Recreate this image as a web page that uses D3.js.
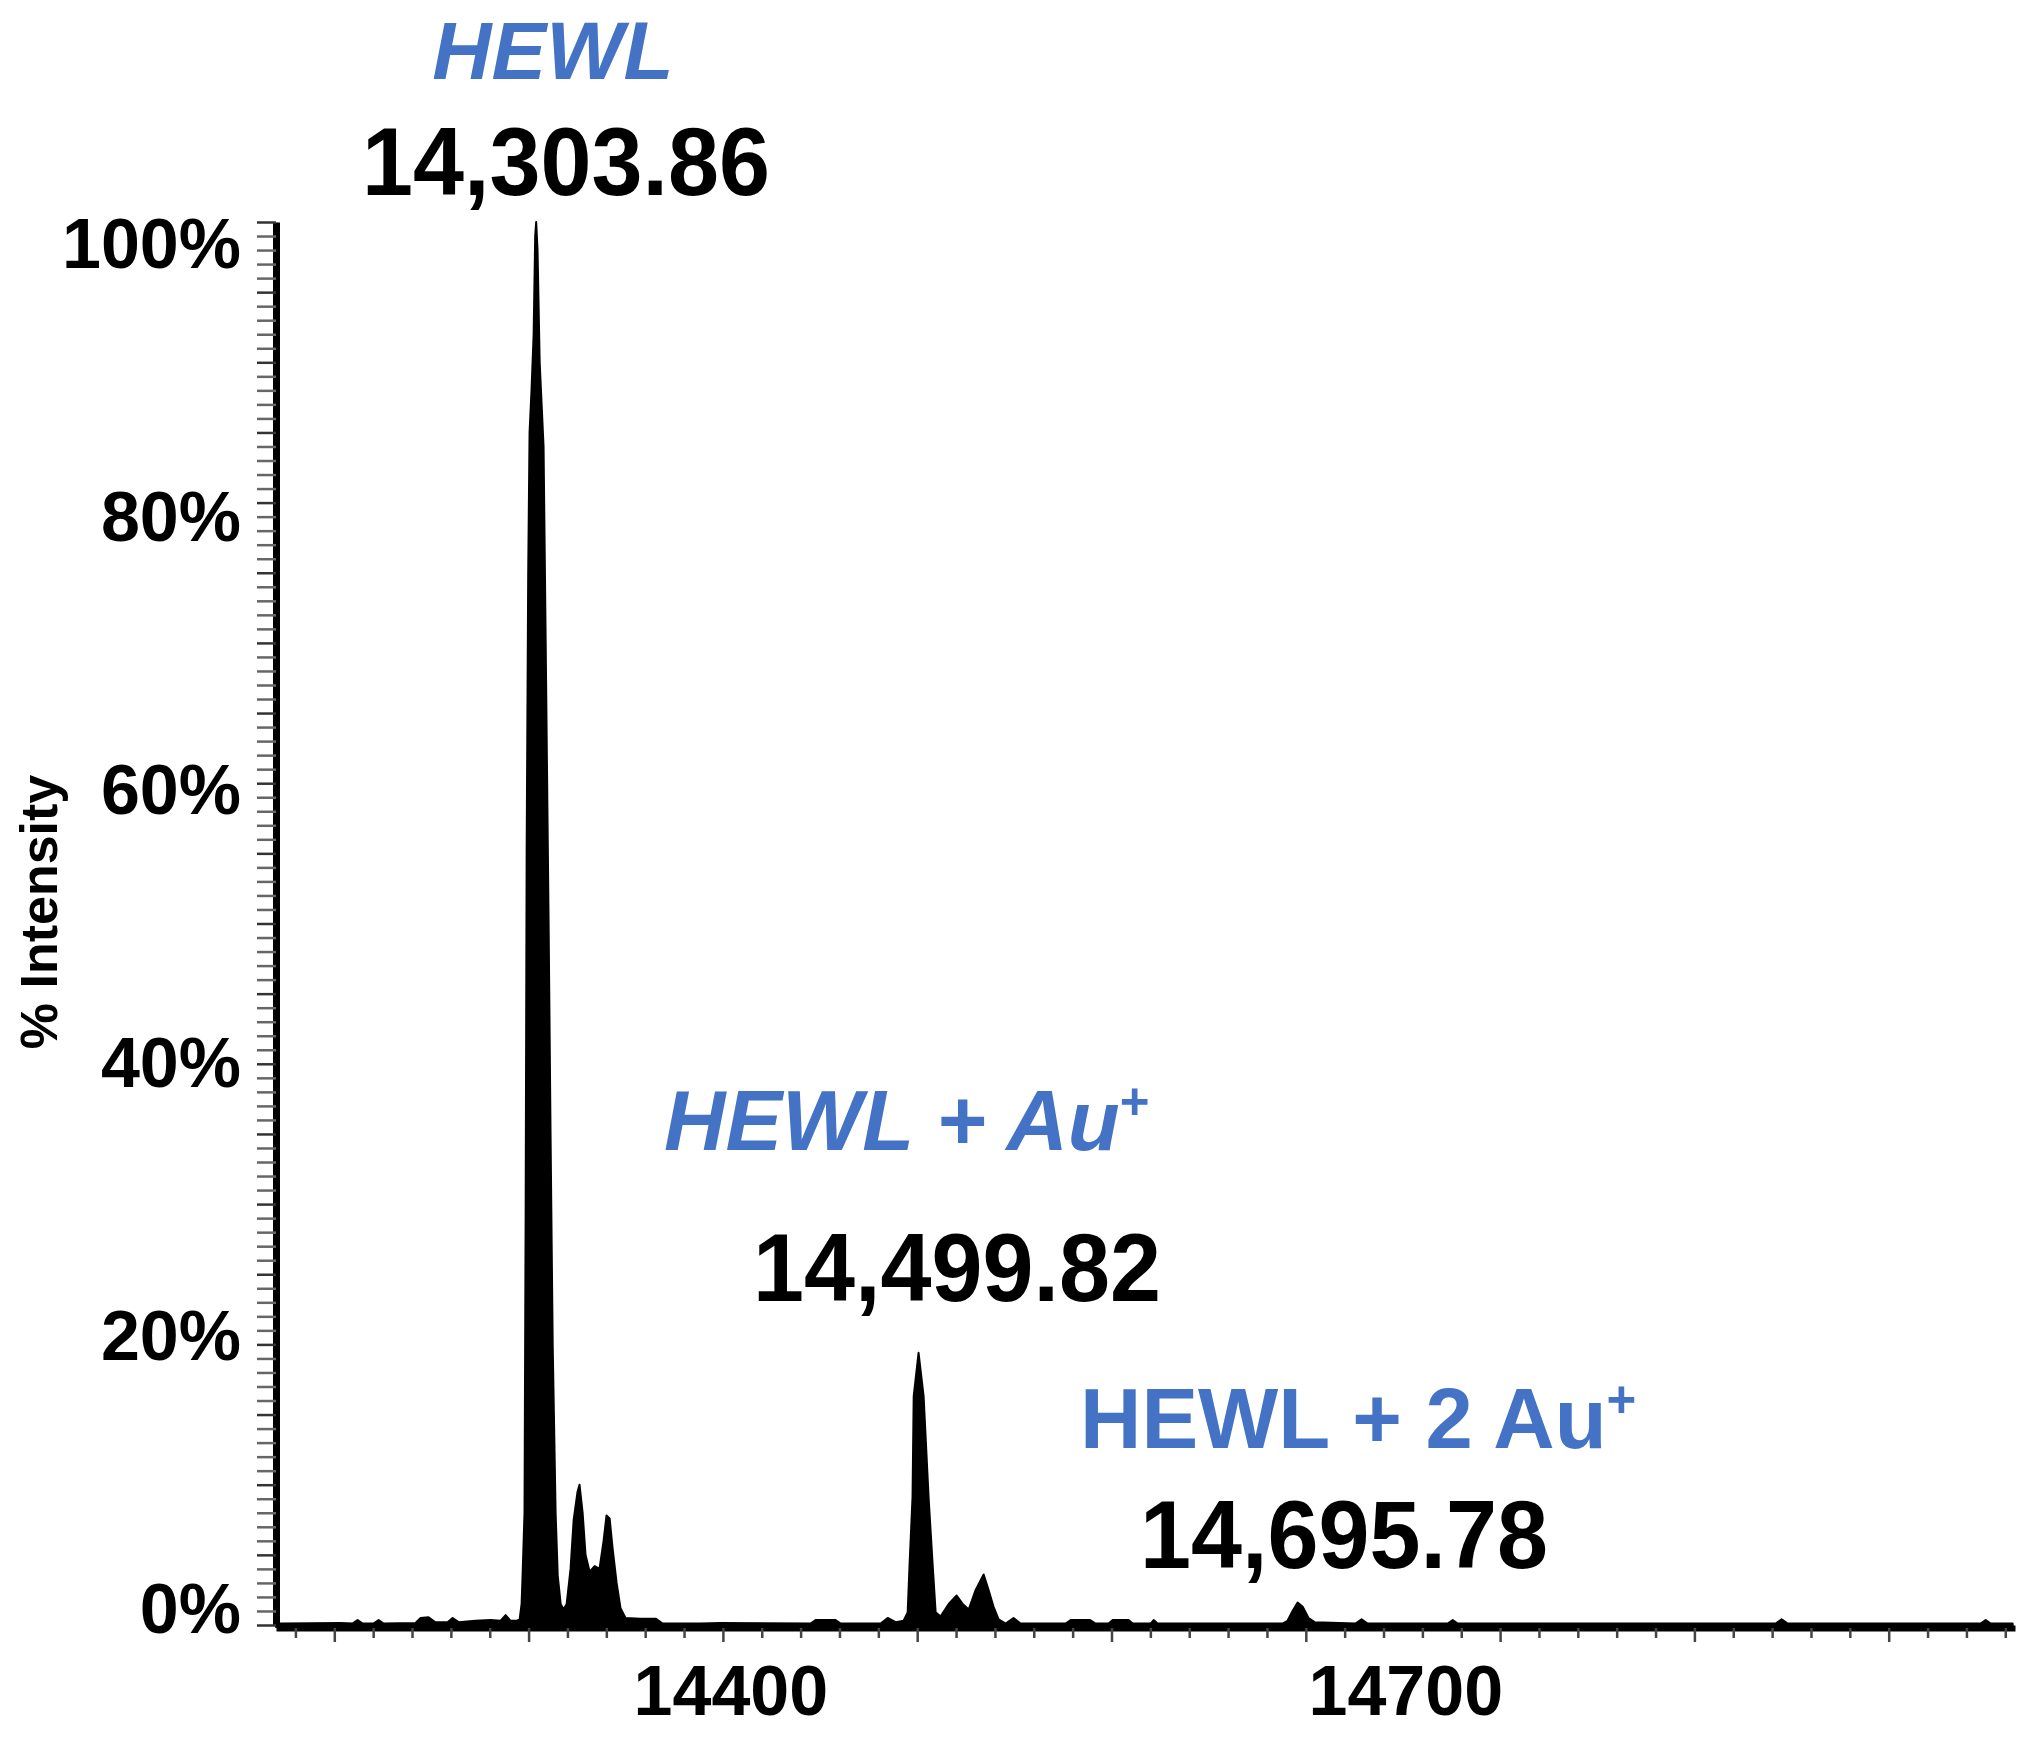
<!DOCTYPE html>
<html>
<head>
<meta charset="utf-8">
<script src="https://cdn.jsdelivr.net/npm/d3@7"></script>
<style>
  html, body { margin: 0; padding: 0; background: #fff; }
  svg { display: block; }
</style>
</head>
<body>
<svg id="chart" width="2040" height="1737"></svg>
<script>
// ---------------- DATA ----------------
// Spectrum outline: mass (Da) and % intensity
const spectrumMass = [
  14170.0, 14172.4, 14203.2, 14209.4, 14212.0, 14214.6, 14220.2, 14222.8, 14225.4,
  14241.8, 14244.4, 14248.5, 14252.1, 14258.3, 14260.9, 14264.0, 14272.7, 14280.4,
  14285.6, 14288.2, 14290.7, 14293.8,
  14295.4, 14296.4, 14296.9, 14297.9, 14298.5, 14299.0, 14299.8, 14300.5, 14301.5,
  14302.6, 14303.4, 14303.9, 14304.6, 14305.7, 14306.7, 14307.7, 14308.8, 14310.3,
  14311.3, 14312.4, 14313.9, 14315.0, 14316.5, 14318.0,
  14319.6, 14321.6, 14323.2, 14325.2, 14326.2, 14327.8, 14329.3, 14331.4, 14334.0,
  14336.5, 14338.6, 14340.1, 14341.7, 14343.2, 14345.3, 14347.3, 14349.9, 14357.6,
  14365.4, 14369.0, 14388.5, 14398.8,
  14445.1, 14447.7, 14458.0, 14460.6, 14481.2, 14484.8, 14488.9, 14493.0,
  14495.1, 14496.1, 14497.6, 14498.2, 14500.7, 14503.3, 14505.9, 14507.9, 14509.5,
  14512.0, 14516.2, 14520.3, 14523.4, 14526.5, 14530.1, 14534.2, 14536.7, 14539.3,
  14541.9, 14545.5, 14549.6, 14553.2,
  14576.4, 14579.0, 14589.0, 14591.8, 14598.5, 14600.6, 14608.8, 14610.9,
  14620.1, 14621.7, 14623.7,
  14688.0, 14690.6, 14693.2, 14695.8, 14698.4, 14701.4, 14704.5,
  14725.6, 14728.7, 14731.8, 14773.0, 14775.6, 14778.2,
  14941.8, 14944.9, 14948.0, 15047.3, 15049.9, 15052.5, 15063.8
];
const spectrumIntensity = [
  0.1, 0.1, 0.15, 0.1, 0.35, 0.1, 0.1, 0.35, 0.1,
  0.15, 0.5, 0.55, 0.2, 0.2, 0.5, 0.2, 0.3, 0.35,
  0.3, 0.7, 0.3, 0.3,
  0.4, 1.5, 3.5, 8, 30, 55, 75, 85, 88,
  92, 99, 100, 98, 90, 87, 84, 70, 50,
  35, 20, 8, 3.5, 1.5, 1.1,
  1.5, 4, 7.5, 9.5, 10, 8, 5, 3.8, 4.2,
  4, 6, 7.8, 7.6, 5.5, 3, 1.2, 0.5, 0.45,
  0.45, 0.1, 0.1, 0.15,
  0.1, 0.35, 0.35, 0.1, 0.1, 0.5, 0.2, 0.3,
  0.9, 4.4, 9.1, 16.3, 19.4, 16.3, 9, 4.4, 0.9,
  0.6, 1.5, 2.1, 1.5, 1.1, 2.5, 3.6, 2.5, 1.3,
  0.4, 0.1, 0.5, 0.1,
  0.1, 0.35, 0.35, 0.1, 0.1, 0.35, 0.35, 0.1,
  0.1, 0.35, 0.1,
  0.1, 0.3, 1.0, 1.6, 1.3, 0.5, 0.2,
  0.1, 0.4, 0.1, 0.1, 0.35, 0.1,
  0.1, 0.4, 0.1, 0.1, 0.35, 0.1, 0.1
];

const yTickValues = [0, 20, 40, 60, 80, 100];
const yMinorTicks = d3.range(0, 101, 1);
const xMinorTicks = d3.range(14180, 15061, 20);
const xTickLabels = [14400, 14700];

const peakNames = ["HEWL", "HEWL + Au", "HEWL + 2 Au"];
const peakNameSup = ["", "+", "+"];
const peakMassLabels = ["14,303.86", "14,499.82", "14,695.78"];
const yAxisTitle = "% Intensity";

// ---------------- LAYOUT ----------------
const FONT = "'Liberation Sans', Arial, Helvetica, sans-serif";
const BLUE = "#4472C4";

const svg = d3.select("#chart");

const x = d3.scaleLinear().domain([14170, 15065]).range([276, 2015]);
const y = d3.scaleLinear().domain([0, 100]).range([1625, 222]);
// tick labels were placed slightly inside the tick span in the original
const yLabelScale = d3.scaleLinear().domain([0, 100]).range([1607, 242]);

const data = spectrumMass.map((m, i) => ({ m, v: spectrumIntensity[i] }));

// spectrum (filled)
const area = d3.area()
  .x(d => x(d.m))
  .y0(y(0) + 2)
  .y1(d => y(d.v))
  .curve(d3.curveLinear);

svg.append("path")
  .datum(data)
  .attr("d", area)
  .attr("fill", "#000")
  .attr("stroke", "#000")
  .attr("stroke-width", 2)
  .attr("stroke-linejoin", "round");

// Y axis: minor ticks + thick line
const yAxisG = svg.append("g")
  .attr("transform", "translate(276,0)")
  .call(d3.axisLeft(y).tickValues(yMinorTicks).tickSize(19).tickSizeOuter(0).tickFormat(""));
yAxisG.select(".domain").attr("stroke", "#000").attr("stroke-width", 7);
yAxisG.selectAll(".tick line")
  .attr("stroke", d => d % 5 === 0 ? "#333" : "#666")
  .attr("stroke-width", 2.5);

// Y tick labels
const yLabG = svg.append("g")
  .attr("transform", "translate(241,0)")
  .call(d3.axisLeft(yLabelScale).tickValues(yTickValues).tickSize(0).tickPadding(0)
        .tickFormat(d => d + "%"));
yLabG.select(".domain").remove();
yLabG.selectAll(".tick text")
  .attr("font-family", FONT)
  .attr("font-weight", "bold")
  .attr("font-size", 70)
  .attr("fill", "#000")
  .attr("dy", "0.36em")
  .attr("text-anchor", "end");

// X axis
const xAxisG = svg.append("g")
  .attr("transform", "translate(0,1628)")
  .call(d3.axisBottom(x).tickValues(xMinorTicks).tickSizeOuter(0).tickFormat(""));
xAxisG.select(".domain").attr("stroke", "#000").attr("stroke-width", 6);
xAxisG.selectAll(".tick line")
  .attr("y2", d => d % 100 === 0 ? 14 : 10)
  .attr("stroke", "#444")
  .attr("stroke-width", 2.5);

// X tick labels (the 14700 label sits right of its tick in the original)
const xLabelShift = { 14400: 8, 14700: 100 };
svg.append("g").selectAll("text")
  .data(xTickLabels)
  .join("text")
  .attr("x", d => x(d) + xLabelShift[d])
  .attr("y", 1715)
  .attr("text-anchor", "middle")
  .attr("font-family", FONT)
  .attr("font-weight", "bold")
  .attr("font-size", 70)
  .attr("fill", "#000")
  .text(d => d);

// Y axis title
svg.append("text")
  .attr("transform", "translate(57,912) rotate(-90)")
  .attr("text-anchor", "middle")
  .attr("font-family", FONT)
  .attr("font-weight", "bold")
  .attr("font-size", 52)
  .attr("fill", "#000")
  .text(yAxisTitle);

// Peak annotations
const nameLayout = [
  { x: 553, y: 79, anchor: "middle", size: 82, italic: true },
  { x: 664, y: 1150, anchor: "start", size: 85, italic: true },
  { x: 1080, y: 1448, anchor: "start", size: 85, italic: false }
];
const massLayout = [
  { x: 566, y: 195 },
  { x: 957, y: 1301 },
  { x: 1344, y: 1568 }
];

peakNames.forEach((name, i) => {
  const L = nameLayout[i];
  const t = svg.append("text")
    .attr("x", L.x).attr("y", L.y)
    .attr("text-anchor", L.anchor)
    .attr("font-family", FONT)
    .attr("font-weight", "bold")
    .attr("font-style", L.italic ? "italic" : "normal")
    .attr("font-size", L.size)
    .attr("fill", BLUE);
  t.append("tspan").text(name);
  if (peakNameSup[i]) {
    t.append("tspan")
      .attr("dy", -L.size * 0.36)
      .attr("font-size", L.size * 0.6)
      .attr("font-style", "normal")
      .text(peakNameSup[i]);
  }
});

peakMassLabels.forEach((lab, i) => {
  const L = massLayout[i];
  svg.append("text")
    .attr("x", L.x).attr("y", L.y)
    .attr("text-anchor", "middle")
    .attr("font-family", FONT)
    .attr("font-weight", "bold")
    .attr("font-size", 96)
    .attr("textLength", 408)
    .attr("lengthAdjust", "spacingAndGlyphs")
    .attr("fill", "#000")
    .text(lab);
});
</script>
</body>
</html>
